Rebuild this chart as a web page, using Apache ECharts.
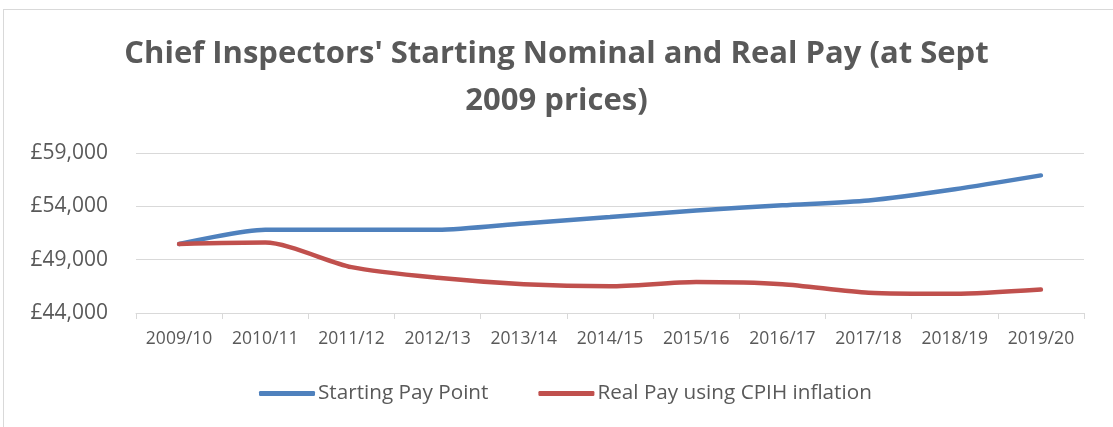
<!DOCTYPE html>
<html>
<head>
<meta charset="utf-8">
<script src="https://cdn.jsdelivr.net/npm/echarts@6/dist/echarts.min.js"></script>
<style>
  html, body { margin: 0; padding: 0; background: #fff; }
  #frame { position: absolute; left: 3px; top: 9px; width: 1120px; height: 430px;
           border-left: 1px solid #d9d9d9; border-top: 1px solid #d9d9d9; }
  #main { position: absolute; left: 0; top: 0; width: 1113px; height: 427px; }
</style>
</head>
<body>
<div id="frame"></div>
<div id="main"></div>
<script>
    var years = ['2009/10', '2010/11', '2011/12', '2012/13', '2013/14', '2014/15',
                 '2015/16', '2016/17', '2017/18', '2018/19', '2019/20'];
    // 起薪（名义）
    var startingPay = [50470, 51800, 51800, 51800, 52400, 53000, 53600, 54100, 54550, 55600, 56900];
    // 按 CPIH 折算的实际工资
    var realPay = [50470, 50600, 48300, 47300, 46700, 46500, 46900, 46700, 45900, 45800, 46200];
    var yTicks = { min: 44000, max: 59000, step: 5000 };

    var textGrey = '#595959';
    var gridGrey = '#d9d9d9';

    var myChart = echarts.init(document.getElementById('main'));
    var option = {
        animation: false,
        title: {
            text: "Chief Inspectors' Starting Nominal and Real Pay (at Sept\n2009 prices)",
            left: 'center',
            top: 26,
            padding: [5, 0, 5, 31],
            textStyle: {
                fontFamily: 'Open Sans',
                fontWeight: 'bold',
                fontSize: 31,
                color: textGrey,
                lineHeight: 47
            }
        },
        legend: {
            top: 378,
            left: 254,
            icon: 'roundRect',
            itemWidth: 56,
            itemHeight: 5,
            itemGap: 50,
            textStyle: { fontFamily: 'Open Sans', fontSize: 20.7, color: textGrey, padding: [0, 0, 0, -2] },
            data: ['Starting Pay Point', 'Real Pay using CPIH inflation']
        },
        grid: { left: 136, right: 29, top: 153, bottom: 114, containLabel: false },
        xAxis: {
            type: 'category',
            data: years,
            boundaryGap: true,
            axisLine: { lineStyle: { color: gridGrey, width: 1 } },
            axisTick: { show: true, interval: 0, length: 6, lineStyle: { color: gridGrey } },
            axisLabel: { interval: 0, hideOverlap: false, fontFamily: 'Open Sans', fontSize: 17.5, color: textGrey, margin: 17 }
        },
        yAxis: {
            type: 'value',
            min: yTicks.min,
            max: yTicks.max,
            interval: yTicks.step,
            axisLine: { show: false },
            axisTick: { show: false },
            splitLine: { lineStyle: { color: gridGrey, width: 1 } },
            axisLabel: {
                fontFamily: 'Open Sans', fontSize: 21, color: textGrey, margin: 28,
                formatter: function (v) { return '£' + v.toLocaleString('en-GB'); }
            }
        },
        series: [{
            name: 'Starting Pay Point',
            type: 'line',
            data: startingPay,
            smooth: 0.25,
            showSymbol: false,
            lineStyle: { color: '#4F81BD', width: 4.5, cap: 'round' },
            itemStyle: { color: '#4F81BD' }
        }, {
            name: 'Real Pay using CPIH inflation',
            type: 'line',
            data: realPay,
            smooth: 0.25,
            showSymbol: false,
            lineStyle: { color: '#C0504D', width: 4.5, cap: 'round' },
            itemStyle: { color: '#C0504D' }
        }]
    };
    myChart.setOption(option);
</script>
</body>
</html>
